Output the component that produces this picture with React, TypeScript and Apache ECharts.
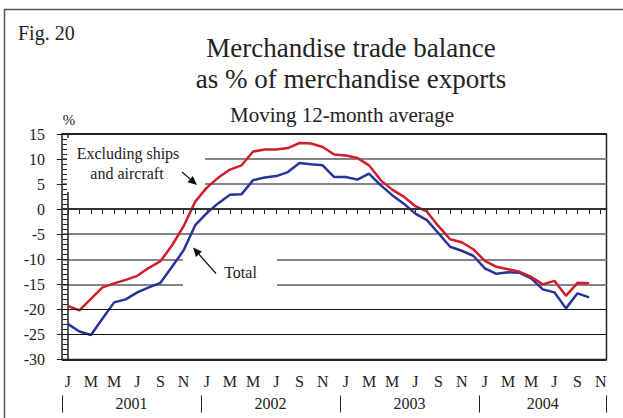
import React, { useEffect, useRef } from "react";
import * as echarts from "echarts";

// ---- data ----
const years = [2001, 2002, 2003, 2004];
const monthsPerYear = [12, 12, 12, 11];
const monthInitials = ["J", "F", "M", "A", "M", "J", "J", "A", "S", "O", "N", "D"];

// Jan 2001 .. Oct 2004
const excludingShipsAircraft = [
  -19.3, -20.2, -17.9, -15.6, -14.8, -14.1, -13.3, -11.7, -10.4, -7.2, -3.4, 1.5,
  4.3, 6.3, 7.9, 8.75, 11.5, 11.9, 11.9, 12.2, 13.2, 13.1, 12.4, 10.9,
  10.7, 10.2, 8.75, 5.8, 3.9, 2.5, 0.6, -0.5, -3.4, -6.0, -6.6, -8.0,
  -10.3, -11.5, -12.0, -12.5, -13.5, -15.0, -14.3, -17.3, -14.7, -14.8,
];
const total = [
  -22.9, -24.4, -25.1, -21.8, -18.6, -18.0, -16.6, -15.6, -14.7, -11.5, -8.2, -3.2,
  -0.8, 1.2, 2.9, 3.0, 5.8, 6.3, 6.6, 7.4, 9.2, 8.95, 8.75, 6.4,
  6.4, 5.9, 7.1, 4.8, 2.8, 1.1, -0.9, -2.2, -4.8, -7.5, -8.3, -9.3,
  -11.8, -12.9, -12.6, -12.7, -13.8, -16.0, -16.6, -19.8, -16.8, -17.6,
];

const yMin = -30;
const yMax = 15;
const yInterval = 5;
const blackGridValues = [-20, -25];
const zeroValue = 0;

const FONT = "Liberation Serif";
const TEXT = "#222";
const RED = "#d01c2c";
const BLUE = "#27359a";
const GRID_GRAY = "#858585";

// categories built from the year list
const categories: string[] = [];
years.forEach((y, k) => {
  for (let m = 0; m < monthsPerYear[k]; m++) categories.push(`${y}-${m}`);
});
const yearStarts: number[] = [];
let acc = 0;
monthsPerYear.forEach((n) => {
  yearStarts.push(acc);
  acc += n;
});
const yearBoundaries = [...yearStarts.map((s) => s - 0.5), acc - 0.5];
const yearCenters = yearStarts.map((s, k) => s - 0.5 + monthsPerYear[k] / 2);

export default function App() {
  const ref = useRef<HTMLDivElement>(null);

  useEffect(() => {
    if (!ref.current) return;
    const chart = echarts.init(ref.current, null, { renderer: "svg" });

    const splitColors: string[] = [];
    for (let v = yMin; v <= yMax; v += yInterval) {
      if (v === yMin || v === yMax) splitColors.push("#222");
      else if (v === zeroValue || blackGridValues.includes(v)) splitColors.push("transparent");
      else splitColors.push(GRID_GRAY);
    }

    const arrowHead = (tip: number[], tail: number[], len: number, half: number) => {
      const dx = tip[0] - tail[0];
      const dy = tip[1] - tail[1];
      const d = Math.sqrt(dx * dx + dy * dy);
      const ux = dx / d;
      const uy = dy / d;
      const bx = tip[0] - ux * len;
      const by = tip[1] - uy * len;
      return {
        base: [bx, by],
        pts: [tip, [bx - uy * half, by + ux * half], [bx + uy * half, by - ux * half]],
      };
    };
    const a1 = arrowHead([197, 185], [182, 172], 9, 4);
    const a2 = arrowHead([193, 247.5], [216, 273.5], 9, 4);

    const labelStyle = { color: TEXT, fontFamily: FONT, fontSize: 16 };

    chart.setOption({
      animation: false,
      backgroundColor: "#fff",
      textStyle: { fontFamily: FONT },
      grid: {
        left: 62,
        right: 16.5,
        top: 134,
        bottom: 58.5,
        show: true,
        borderColor: "#222",
        borderWidth: 1.5,
        backgroundColor: "transparent",
      },
      xAxis: [
        {
          type: "category",
          data: categories,
          boundaryGap: true,
          axisLine: { lineStyle: { color: "#222", width: 1.5 } },
          axisTick: {
            show: true,
            alignWithLabel: true,
            interval: 0,
            length: 5,
            lineStyle: { color: "#222", width: 1 },
          },
          axisLabel: {
            ...labelStyle,
            interval: 1,
            margin: 14,
            formatter: (v: string) => monthInitials[Number(v.split("-")[1])],
          },
          splitLine: { show: false },
        },
        {
          type: "value",
          min: -0.5,
          max: acc - 0.5,
          position: "bottom",
          offset: 36,
          axisLine: { show: false },
          axisTick: {
            show: true,
            customValues: yearBoundaries,
            length: 17,
            lineStyle: { color: "#222", width: 1 },
          },
          axisLabel: {
            ...labelStyle,
            show: true,
            customValues: yearCenters,
            margin: 0,
            formatter: (v: number) => {
              const k = yearCenters.findIndex((c) => Math.abs(c - v) < 1e-6);
              return k >= 0 ? String(years[k]) : "";
            },
          },
          splitLine: { show: false },
        },
      ],
      yAxis: {
        type: "value",
        min: yMin,
        max: yMax,
        interval: yInterval,
        axisLine: { show: true, lineStyle: { color: "#222", width: 1.5 } },
        axisTick: { show: true, length: 11, lineStyle: { color: "#222", width: 1 } },
        minorTick: { show: true, splitNumber: 5, length: 5, lineStyle: { color: "#222", width: 1 } },
        axisLabel: { ...labelStyle, margin: 17 },
        splitLine: { show: true, lineStyle: { color: splitColors, width: 1.8 } },
      },
      series: [
        {
          name: "Total",
          type: "line",
          data: total,
          symbol: "none",
          lineStyle: { color: BLUE, width: 2.5 },
          z: 3,
        },
        {
          name: "Excluding ships and aircraft",
          type: "line",
          data: excludingShipsAircraft,
          symbol: "none",
          lineStyle: { color: RED, width: 2.5 },
          z: 4,
          markLine: {
            silent: true,
            symbol: "none",
            label: { show: false },
            data: [
              { yAxis: zeroValue, lineStyle: { color: "#333", width: 2, type: "solid" } },
              ...blackGridValues.map((v) => ({
                yAxis: v,
                lineStyle: { color: "#111", width: 1.2, type: "solid" },
              })),
            ],
          },
        },
      ],
      graphic: [
        {
          type: "polyline",
          shape: { points: [[4.5, 420], [4.5, 9.5], [625, 9.5]] },
          style: { stroke: "#555", lineWidth: 1.5, fill: "none" },
        },
        {
          type: "text",
          x: 18,
          y: 33,
          style: { text: "Fig. 20", font: `20px ${FONT}`, fill: TEXT, align: "left", verticalAlign: "middle" },
        },
        {
          type: "text",
          x: 351,
          y: 48,
          style: { text: "Merchandise trade balance", font: `27px ${FONT}`, fill: TEXT, align: "center", verticalAlign: "middle" },
        },
        {
          type: "text",
          x: 351,
          y: 79,
          style: { text: "as % of merchandise exports", font: `27px ${FONT}`, fill: TEXT, align: "center", verticalAlign: "middle" },
        },
        {
          type: "text",
          x: 342,
          y: 114.5,
          style: { text: "Moving 12-month average", font: `21px ${FONT}`, fill: TEXT, align: "center", verticalAlign: "middle" },
        },
        {
          type: "text",
          x: 69,
          y: 120,
          style: { text: "%", font: `15px ${FONT}`, fill: TEXT, align: "center", verticalAlign: "middle" },
        },
        {
          type: "rect",
          z: 1,
          shape: { x: 67, y: 138, width: 138, height: 54 },
          style: { fill: "#fff" },
        },
        {
          type: "rect",
          z: 1,
          shape: { x: 183, y: 246, width: 94, height: 50 },
          style: { fill: "#fff" },
        },
        {
          type: "text",
          z: 5,
          x: 128,
          y: 153,
          style: { text: "Excluding ships", font: `16px ${FONT}`, fill: TEXT, align: "center", verticalAlign: "middle" },
        },
        {
          type: "text",
          z: 5,
          x: 127,
          y: 173,
          style: { text: "and aircraft", font: `16px ${FONT}`, fill: TEXT, align: "center", verticalAlign: "middle" },
        },
        {
          type: "text",
          z: 5,
          x: 240.5,
          y: 272.5,
          style: { text: "Total", font: `16px ${FONT}`, fill: TEXT, align: "center", verticalAlign: "middle" },
        },
        {
          type: "line",
          z: 5,
          shape: { x1: 182, y1: 172, x2: a1.base[0], y2: a1.base[1] },
          style: { stroke: "#111", lineWidth: 1.2 },
        },
        {
          type: "polygon",
          z: 5,
          shape: { points: a1.pts },
          style: { fill: "#111" },
        },
        {
          type: "line",
          z: 5,
          shape: { x1: 216, y1: 273.5, x2: a2.base[0], y2: a2.base[1] },
          style: { stroke: "#111", lineWidth: 1.2 },
        },
        {
          type: "polygon",
          z: 5,
          shape: { points: a2.pts },
          style: { fill: "#111" },
        },
      ],
    });

    return () => chart.dispose();
  }, []);

  return (
    <div
      ref={ref}
      style={{ position: "fixed", left: 0, top: 0, width: 623, height: 418, background: "#fff" }}
    />
  );
}
